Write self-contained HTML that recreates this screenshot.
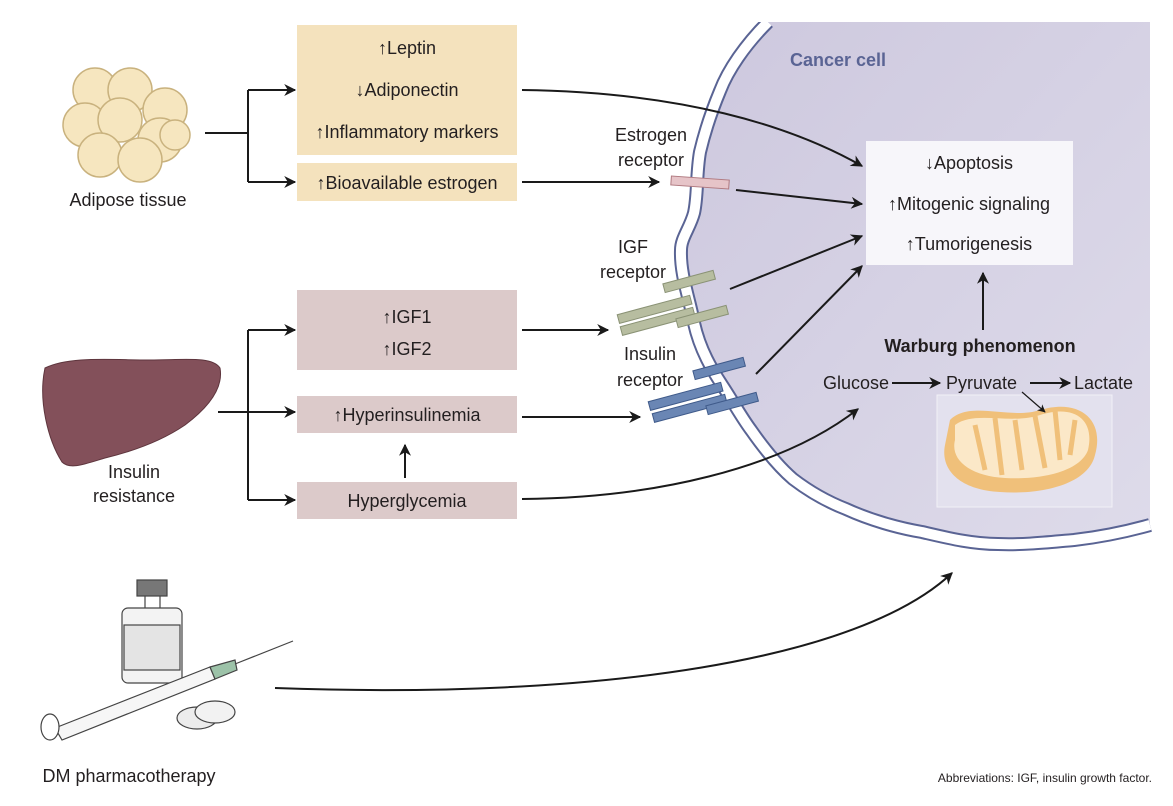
<!DOCTYPE html>
<html><head><meta charset="utf-8"><style>
html,body{margin:0;padding:0;background:#fff;}
svg{display:block;}
text{font-family:"Liberation Sans",sans-serif;fill:#231f20;}
</style></head><body>
<svg width="1173" height="806" viewBox="0 0 1173 806" xmlns="http://www.w3.org/2000/svg">
<defs>
<marker id="ah" viewBox="0 0 10 10" refX="9" refY="5" markerWidth="13" markerHeight="12" markerUnits="userSpaceOnUse" orient="auto"><path d="M0,0 L10,5 L0,10 L3,5 z" fill="#1a1a1a"/></marker>
<marker id="ahs" viewBox="0 0 10 10" refX="9" refY="5" markerWidth="8" markerHeight="8" markerUnits="userSpaceOnUse" orient="auto"><path d="M0,0 L10,5 L0,10 L3,5 z" fill="#1a1a1a"/></marker>
<linearGradient id="cg" x1="0" y1="0" x2="1" y2="1"><stop offset="0" stop-color="#cdc8de"/><stop offset="1" stop-color="#dedbea"/></linearGradient>
</defs>
<!-- cell -->
<path d="M768,22 C745,45 728,70 720,91 C710,115 704,135 700,152 C696,175 698,195 694,213 C690,228 681,238 681,250 C680,275 690,300 694,323 C700,350 712,370 724,388 C735,405 742,418 751,430 C765,450 778,466 793,479 C810,492 828,502 846,509 C870,520 898,528 922,532 C948,538 972,544 998,544 C1025,545 1050,542 1074,540 C1100,537 1125,532 1150,525 L1150,22 Z" fill="url(#cg)"/>
<path d="M768,22 C745,45 728,70 720,91 C710,115 704,135 700,152 C696,175 698,195 694,213 C690,228 681,238 681,250 C680,275 690,300 694,323 C700,350 712,370 724,388 C735,405 742,418 751,430 C765,450 778,466 793,479 C810,492 828,502 846,509 C870,520 898,528 922,532 C948,538 972,544 998,544 C1025,545 1050,542 1074,540 C1100,537 1125,532 1150,525" fill="none" stroke="#5a6494" stroke-width="14"/>
<path d="M768,22 C745,45 728,70 720,91 C710,115 704,135 700,152 C696,175 698,195 694,213 C690,228 681,238 681,250 C680,275 690,300 694,323 C700,350 712,370 724,388 C735,405 742,418 751,430 C765,450 778,466 793,479 C810,492 828,502 846,509 C870,520 898,528 922,532 C948,538 972,544 998,544 C1025,545 1050,542 1074,540 C1100,537 1125,532 1150,525" fill="none" stroke="#fff" stroke-width="10"/>
<rect x="755" y="0" width="400" height="22" fill="#fff"/>
<text x="790" y="66" font-size="18" font-weight="bold" style="fill:#5a6494">Cancer cell</text>

<!-- boxes -->
<rect x="297" y="25" width="220" height="130" fill="#f4e2bd"/>
<rect x="297" y="163" width="220" height="38" fill="#f4e2bd"/>
<rect x="297" y="290" width="220" height="80" fill="#dccaca"/>
<rect x="297" y="396" width="220" height="37" fill="#dccaca"/>
<rect x="297" y="482" width="220" height="37" fill="#dccaca"/>
<rect x="866" y="141" width="207" height="124" fill="#f7f6fa"/>

<g font-size="18" text-anchor="middle">
<text x="407" y="54">↑Leptin</text>
<text x="407" y="96">↓Adiponectin</text>
<text x="407" y="138">↑Inflammatory markers</text>
<text x="407" y="189">↑Bioavailable estrogen</text>
<text x="407" y="323">↑IGF1</text>
<text x="407" y="355">↑IGF2</text>
<text x="407" y="421">↑Hyperinsulinemia</text>
<text x="407" y="507">Hyperglycemia</text>
<text x="969" y="169">↓Apoptosis</text>
<text x="969" y="210">↑Mitogenic signaling</text>
<text x="969" y="250">↑Tumorigenesis</text>
<text x="980" y="352" font-weight="bold">Warburg phenomenon</text>
<text x="651" y="141">Estrogen</text>
<text x="651" y="166">receptor</text>
<text x="633" y="253">IGF</text>
<text x="633" y="278">receptor</text>
<text x="650" y="360">Insulin</text>
<text x="650" y="386">receptor</text>
<text x="128" y="206">Adipose tissue</text>
<text x="134" y="478">Insulin</text>
<text x="134" y="502">resistance</text>
<text x="129" y="782">DM pharmacotherapy</text>
</g>
<text x="823" y="389" font-size="18">Glucose</text>
<text x="946" y="389" font-size="18">Pyruvate</text>
<text x="1074" y="389" font-size="18">Lactate</text>
<text x="1152" y="782" font-size="12" text-anchor="end">Abbreviations: IGF, insulin growth factor.</text>

<!-- connectors -->
<g stroke="#1a1a1a" stroke-width="2" fill="none">
<path d="M205,133 H248 M248,90 V182 M218,412 H248 M248,330 V500"/>
<path d="M248,90 H295" marker-end="url(#ah)"/>
<path d="M248,182 H295" marker-end="url(#ah)"/>
<path d="M248,330 H295" marker-end="url(#ah)"/>
<path d="M248,412 H295" marker-end="url(#ah)"/>
<path d="M248,500 H295" marker-end="url(#ah)"/>
<path d="M405,478 V445" marker-end="url(#ah)"/>
<path d="M522,90 C680,92 790,125 862,166" marker-end="url(#ah)"/>
<path d="M522,182 H659" marker-end="url(#ah)"/>
<path d="M736,190 L862,204" marker-end="url(#ah)"/>
<path d="M522,330 H608" marker-end="url(#ah)"/>
<path d="M730,289 L862,236" marker-end="url(#ah)"/>
<path d="M522,417 H640" marker-end="url(#ah)"/>
<path d="M756,374 L862,266" marker-end="url(#ah)"/>
<path d="M522,499 C650,498 780,470 858,409" marker-end="url(#ah)"/>
<path d="M983,330 V273" marker-end="url(#ah)"/>
<path d="M892,383 H940" marker-end="url(#ah)"/>
<path d="M1030,383 H1070" marker-end="url(#ah)"/>
<path d="M275,688 C600,700 860,660 952,573" marker-end="url(#ah)"/>
</g>

<!-- estrogen receptor -->
<rect x="671" y="178" width="58" height="9" fill="#e6c4c8" stroke="#b07a80" stroke-width="1" transform="rotate(4 700 183)"/>
<!-- IGF receptor -->
<g fill="#b7bda0" stroke="#8a9275" stroke-width="1">
<rect x="663" y="277" width="52" height="9" transform="rotate(-15 689 281)"/>
<rect x="617" y="305" width="75" height="9" transform="rotate(-15 654 309)"/>
<rect x="620" y="317" width="75" height="9" transform="rotate(-15 657 321)"/>
<rect x="676" y="312" width="52" height="9" transform="rotate(-15 702 316)"/>
</g>
<!-- insulin receptor -->
<g fill="#6a86b4" stroke="#3f5a8a" stroke-width="1">
<rect x="693" y="364" width="52" height="9" transform="rotate(-15 719 368)"/>
<rect x="648" y="392" width="75" height="9" transform="rotate(-15 685 396)"/>
<rect x="652" y="404" width="75" height="9" transform="rotate(-15 689 408)"/>
<rect x="706" y="399" width="52" height="9" transform="rotate(-15 732 403)"/>
</g>

<!-- mitochondrion -->
<rect x="937" y="395" width="175" height="112" fill="#e3e1ee" stroke="#f2f1f7"/>
<path d="M950,420 C970,400 1010,420 1040,410 C1080,398 1105,420 1095,455 C1088,485 1040,495 1000,492 C960,490 940,470 945,445 Z" fill="#f0c07a"/>
<path d="M955,425 C975,410 1010,425 1040,415 C1075,404 1095,420 1088,450 C1080,472 1040,480 1005,478 C970,476 950,460 955,440 Z" fill="#fbe8c8"/>
<g stroke="#f0c07a" stroke-width="5" fill="none">
<path d="M975,425 L985,470 M995,418 L1002,475 M1015,420 L1022,470 M1035,416 L1045,468 M1055,410 L1060,460 M1075,420 L1070,455"/>
</g>
<path d="M1022,392 L1045,412" stroke="#1a1a1a" stroke-width="1.2" marker-end="url(#ahs)"/>

<!-- adipose -->
<g fill="#f6e6bf" stroke="#c9b27e" stroke-width="1.5">
<circle cx="95" cy="90" r="22"/><circle cx="130" cy="90" r="22"/><circle cx="165" cy="110" r="22"/>
<circle cx="85" cy="125" r="22"/><circle cx="120" cy="120" r="22"/><circle cx="160" cy="140" r="22"/>
<circle cx="100" cy="155" r="22"/><circle cx="140" cy="160" r="22"/><circle cx="175" cy="135" r="15"/>
</g>
<!-- liver -->
<path d="M45,368 C70,356 110,360 150,360 C185,360 212,356 220,368 C224,390 205,410 185,425 C160,442 130,452 105,458 C85,464 70,470 62,462 C48,440 38,400 45,368 Z" fill="#83505a" stroke="#5e353d"/>
<!-- drugs -->
<g stroke="#444" stroke-width="1.2">
<rect x="122" y="608" width="60" height="75" rx="6" fill="#f3f3f3"/>
<rect x="124" y="625" width="56" height="45" fill="#e4e4e4"/>
<rect x="137" y="580" width="30" height="16" fill="#777"/>
<path d="M145,596 V608 M160,596 V608"/>
<path d="M55,728 L210,667 L215,679 L62,740 Z" fill="#f6f6f6"/>
<path d="M210,667 L235,660 L237,670 L215,679 Z" fill="#9cc2a8"/>
<path d="M235,664 L293,641"/>
<ellipse cx="50" cy="727" rx="9" ry="13" fill="#fff"/>
<ellipse cx="197" cy="718" rx="20" ry="11" fill="#ececec"/>
<ellipse cx="215" cy="712" rx="20" ry="11" fill="#f2f2f2"/>
</g>
</svg>
</body></html>
